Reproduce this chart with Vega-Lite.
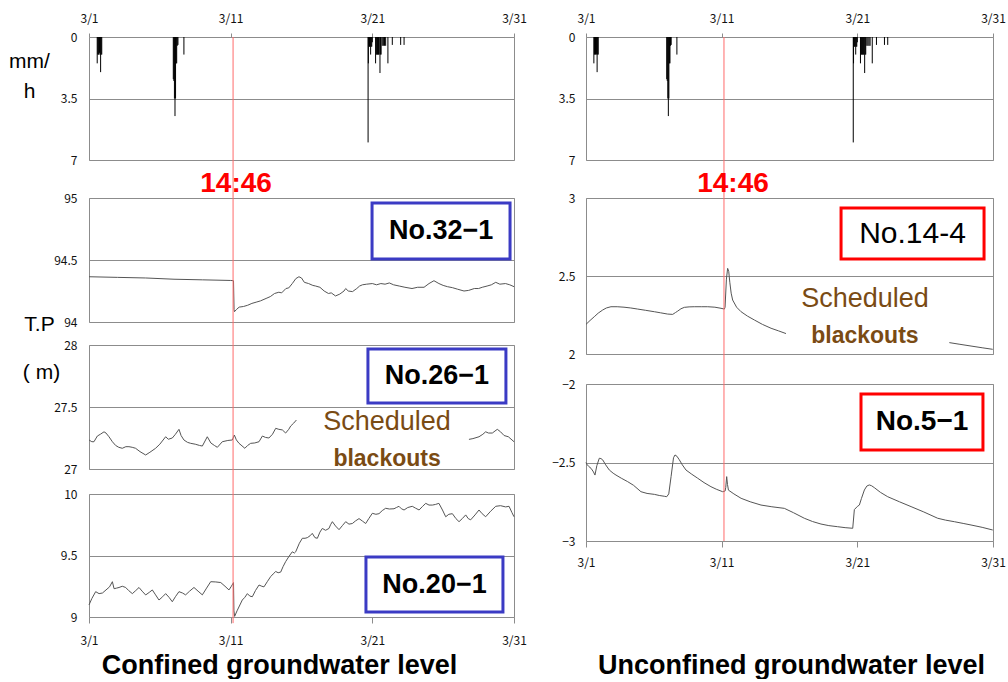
{
"$schema": "https://vega.github.io/schema/vega-lite/v6.json",
"padding": {"left": 8, "top": 11, "right": 0, "bottom": 0},
"background": "white",
"spacing": 24,
"datasets": {
"rain": [
{"d":1.58,"mm":1.5},{"d":1.62,"mm":1.0},{"d":1.66,"mm":1.0},{"d":1.70,"mm":1.0},{"d":1.74,"mm":0.9},{"d":1.78,"mm":1.0},{"d":1.82,"mm":2.0},{"d":1.86,"mm":1.0},{"d":1.90,"mm":1.0},
{"d":6.95,"mm":2.4},{"d":6.99,"mm":2.5},{"d":7.03,"mm":3.5},{"d":7.07,"mm":4.5},{"d":7.11,"mm":3.5},{"d":7.15,"mm":1.5},{"d":7.19,"mm":1.5},{"d":7.23,"mm":0.5},{"d":7.28,"mm":0.45},{"d":7.70,"mm":1.0},
{"d":20.70,"mm":6.0},{"d":20.72,"mm":1.5},{"d":20.76,"mm":0.55},{"d":20.80,"mm":0.55},{"d":20.84,"mm":0.55},{"d":20.88,"mm":1.0},{"d":20.92,"mm":0.55},{"d":20.96,"mm":0.55},{"d":21.0,"mm":0.3},
{"d":21.23,"mm":1.5},{"d":21.28,"mm":1.0},{"d":21.32,"mm":1.0},{"d":21.36,"mm":1.0},{"d":21.40,"mm":1.0},{"d":21.44,"mm":1.0},{"d":21.48,"mm":1.0},{"d":21.54,"mm":2.05},{"d":21.58,"mm":1.0},{"d":21.62,"mm":1.0},
{"d":21.70,"mm":0.5},{"d":21.78,"mm":0.5},{"d":21.86,"mm":0.5},{"d":21.94,"mm":0.5},{"d":22.1,"mm":1.5},{"d":22.41,"mm":0.45},{"d":23.0,"mm":0.45},{"d":23.24,"mm":0.45}
],
"g32": [
{"d":1.0,"v":94.365},{"d":3.0,"v":94.36},{"d":5.0,"v":94.355},{"d":7.0,"v":94.345},{"d":9.0,"v":94.34},{"d":11.0,"v":94.335},{"d":11.2,"v":94.333},{"d":11.24,"v":94.10},{"d":11.27,"v":94.083},{"d":11.4,"v":94.10},{"d":11.6,"v":94.12},{"d":11.9,"v":94.125},{"d":12.2,"v":94.135},{"d":12.5,"v":94.15},{"d":12.8,"v":94.16},{"d":13.1,"v":94.17},{"d":13.5,"v":94.19},{"d":13.8,"v":94.205},{"d":14.1,"v":94.23},{"d":14.4,"v":94.24},{"d":14.6,"v":94.235},{"d":14.9,"v":94.27},{"d":15.1,"v":94.275},{"d":15.35,"v":94.31},{"d":15.6,"v":94.35},{"d":15.82,"v":94.365},{"d":16.0,"v":94.355},{"d":16.2,"v":94.32},{"d":16.5,"v":94.31},{"d":16.8,"v":94.295},{"d":17.0,"v":94.29},{"d":17.3,"v":94.28},{"d":17.6,"v":94.25},{"d":17.9,"v":94.23},{"d":18.1,"v":94.235},{"d":18.4,"v":94.21},{"d":18.7,"v":94.225},{"d":19.0,"v":94.25},{"d":19.12,"v":94.27},{"d":19.3,"v":94.25},{"d":19.6,"v":94.245},{"d":19.9,"v":94.27},{"d":20.1,"v":94.29},{"d":20.3,"v":94.3},{"d":20.6,"v":94.305},{"d":21.0,"v":94.31},{"d":21.3,"v":94.3},{"d":21.6,"v":94.31},{"d":21.9,"v":94.305},{"d":22.2,"v":94.315},{"d":22.5,"v":94.3},{"d":22.9,"v":94.29},{"d":23.3,"v":94.28},{"d":23.8,"v":94.27},{"d":24.2,"v":94.28},{"d":24.65,"v":94.28},{"d":25.0,"v":94.31},{"d":25.35,"v":94.333},{"d":25.7,"v":94.31},{"d":26.0,"v":94.295},{"d":26.3,"v":94.285},{"d":26.65,"v":94.277},{"d":27.0,"v":94.265},{"d":27.47,"v":94.25},{"d":27.8,"v":94.255},{"d":28.2,"v":94.27},{"d":28.5,"v":94.27},{"d":28.76,"v":94.28},{"d":29.1,"v":94.29},{"d":29.4,"v":94.30},{"d":29.71,"v":94.32},{"d":30.0,"v":94.305},{"d":30.4,"v":94.31},{"d":30.7,"v":94.3},{"d":31.0,"v":94.285}
],
"g26": [
{"s":1,"d":1.0,"v":27.234},{"s":1,"d":1.2,"v":27.22},{"s":1,"d":1.35,"v":27.22},{"s":1,"d":1.59,"v":27.266},{"s":1,"d":1.8,"v":27.28},{"s":1,"d":2.06,"v":27.30},{"s":1,"d":2.2,"v":27.29},{"s":1,"d":2.41,"v":27.26},{"s":1,"d":2.65,"v":27.22},{"s":1,"d":2.88,"v":27.19},{"s":1,"d":3.1,"v":27.175},{"s":1,"d":3.35,"v":27.167},{"s":1,"d":3.6,"v":27.18},{"s":1,"d":3.82,"v":27.18},{"s":1,"d":4.05,"v":27.175},{"s":1,"d":4.29,"v":27.167},{"s":1,"d":4.6,"v":27.14},{"s":1,"d":5.0,"v":27.113},{"s":1,"d":5.3,"v":27.135},{"s":1,"d":5.7,"v":27.167},{"s":1,"d":6.0,"v":27.2},{"s":1,"d":6.41,"v":27.26},{"s":1,"d":6.6,"v":27.24},{"s":1,"d":6.88,"v":27.25},{"s":1,"d":7.1,"v":27.28},{"s":1,"d":7.35,"v":27.32},{"s":1,"d":7.5,"v":27.27},{"s":1,"d":7.7,"v":27.234},{"s":1,"d":7.95,"v":27.215},{"s":1,"d":8.18,"v":27.207},{"s":1,"d":8.5,"v":27.2},{"s":1,"d":8.8,"v":27.19},{"s":1,"d":9.0,"v":27.185},{"s":1,"d":9.35,"v":27.26},{"s":1,"d":9.6,"v":27.21},{"s":1,"d":9.85,"v":27.19},{"s":1,"d":10.06,"v":27.175},{"s":1,"d":10.41,"v":27.22},{"s":1,"d":10.8,"v":27.23},{"s":1,"d":11.12,"v":27.234},{"s":1,"d":11.26,"v":27.274},{"s":1,"d":11.4,"v":27.235},{"s":1,"d":11.59,"v":27.207},{"s":1,"d":12.0,"v":27.167},{"s":1,"d":12.2,"v":27.19},{"s":1,"d":12.41,"v":27.207},{"s":1,"d":12.7,"v":27.21},{"s":1,"d":13.0,"v":27.22},{"s":1,"d":13.24,"v":27.266},{"s":1,"d":13.45,"v":27.255},{"s":1,"d":13.7,"v":27.25},{"s":1,"d":13.95,"v":27.28},{"s":1,"d":14.18,"v":27.328},{"s":1,"d":14.4,"v":27.32},{"s":1,"d":14.65,"v":27.315},{"s":1,"d":14.88,"v":27.29},{"s":1,"d":15.1,"v":27.32},{"s":1,"d":15.24,"v":27.347},{"s":1,"d":15.45,"v":27.37},{"s":1,"d":15.64,"v":27.395},
{"s":2,"d":27.82,"v":27.239},{"s":2,"d":28.1,"v":27.245},{"s":2,"d":28.53,"v":27.26},{"s":2,"d":28.8,"v":27.28},{"s":2,"d":29.0,"v":27.30},{"s":2,"d":29.2,"v":27.29},{"s":2,"d":29.47,"v":27.29},{"s":2,"d":29.82,"v":27.32},{"s":2,"d":30.05,"v":27.3},{"s":2,"d":30.3,"v":27.27},{"s":2,"d":30.6,"v":27.26},{"s":2,"d":31.0,"v":27.22}
],
"g20": [
{"d":1.0,"v":9.098},{"d":1.2,"v":9.15},{"d":1.47,"v":9.206},{"d":1.71,"v":9.19},{"d":1.95,"v":9.195},{"d":2.2,"v":9.22},{"d":2.45,"v":9.245},{"d":2.65,"v":9.287},{"d":2.77,"v":9.23},{"d":2.95,"v":9.235},{"d":3.12,"v":9.24},{"d":3.35,"v":9.25},{"d":3.59,"v":9.24},{"d":3.8,"v":9.215},{"d":4.06,"v":9.19},{"d":4.3,"v":9.215},{"d":4.53,"v":9.24},{"d":4.75,"v":9.21},{"d":5.0,"v":9.179},{"d":5.25,"v":9.20},{"d":5.47,"v":9.22},{"d":5.7,"v":9.18},{"d":5.94,"v":9.138},{"d":6.2,"v":9.165},{"d":6.41,"v":9.19},{"d":6.65,"v":9.16},{"d":6.88,"v":9.124},{"d":7.1,"v":9.165},{"d":7.35,"v":9.206},{"d":7.6,"v":9.195},{"d":7.82,"v":9.18},{"d":8.1,"v":9.21},{"d":8.41,"v":9.24},{"d":8.7,"v":9.21},{"d":9.0,"v":9.18},{"d":9.3,"v":9.235},{"d":9.59,"v":9.287},{"d":9.95,"v":9.285},{"d":10.3,"v":9.28},{"d":10.6,"v":9.25},{"d":10.88,"v":9.22},{"d":11.05,"v":9.25},{"d":11.2,"v":9.28},{"d":11.23,"v":9.05},{"d":11.28,"v":9.005},{"d":11.45,"v":9.05},{"d":11.82,"v":9.138},{"d":12.0,"v":9.16},{"d":12.18,"v":9.19},{"d":12.35,"v":9.17},{"d":12.53,"v":9.165},{"d":12.75,"v":9.215},{"d":13.0,"v":9.26},{"d":13.2,"v":9.25},{"d":13.35,"v":9.245},{"d":13.6,"v":9.29},{"d":13.82,"v":9.328},{"d":14.0,"v":9.35},{"d":14.18,"v":9.37},{"d":14.35,"v":9.36},{"d":14.53,"v":9.365},{"d":14.7,"v":9.41},{"d":14.88,"v":9.45},{"d":15.1,"v":9.49},{"d":15.35,"v":9.53},{"d":15.5,"v":9.52},{"d":15.59,"v":9.53},{"d":15.85,"v":9.6},{"d":16.06,"v":9.64},{"d":16.25,"v":9.64},{"d":16.41,"v":9.645},{"d":16.6,"v":9.66},{"d":16.76,"v":9.68},{"d":16.95,"v":9.645},{"d":17.12,"v":9.64},{"d":17.3,"v":9.69},{"d":17.47,"v":9.72},{"d":17.7,"v":9.705},{"d":17.94,"v":9.72},{"d":18.05,"v":9.75},{"d":18.18,"v":9.775},{"d":18.4,"v":9.74},{"d":18.65,"v":9.71},{"d":18.9,"v":9.745},{"d":19.12,"v":9.775},{"d":19.35,"v":9.755},{"d":19.59,"v":9.76},{"d":19.8,"v":9.78},{"d":20.06,"v":9.80},{"d":20.3,"v":9.78},{"d":20.53,"v":9.76},{"d":20.75,"v":9.80},{"d":21.0,"v":9.843},{"d":21.25,"v":9.835},{"d":21.47,"v":9.84},{"d":21.7,"v":9.865},{"d":21.94,"v":9.884},{"d":22.2,"v":9.878},{"d":22.53,"v":9.88},{"d":22.7,"v":9.89},{"d":22.88,"v":9.90},{"d":23.05,"v":9.88},{"d":23.24,"v":9.87},{"d":23.5,"v":9.89},{"d":23.82,"v":9.90},{"d":24.05,"v":9.885},{"d":24.3,"v":9.87},{"d":24.55,"v":9.90},{"d":24.77,"v":9.924},{"d":25.0,"v":9.91},{"d":25.24,"v":9.91},{"d":25.45,"v":9.915},{"d":25.7,"v":9.924},{"d":25.95,"v":9.87},{"d":26.18,"v":9.815},{"d":26.4,"v":9.835},{"d":26.65,"v":9.84},{"d":26.9,"v":9.80},{"d":27.12,"v":9.775},{"d":27.35,"v":9.80},{"d":27.59,"v":9.83},{"d":27.77,"v":9.80},{"d":27.94,"v":9.79},{"d":28.25,"v":9.83},{"d":28.53,"v":9.87},{"d":28.75,"v":9.84},{"d":29.0,"v":9.815},{"d":29.35,"v":9.86},{"d":29.71,"v":9.90},{"d":30.05,"v":9.905},{"d":30.41,"v":9.895},{"d":30.65,"v":9.90},{"d":30.85,"v":9.85},{"d":31.0,"v":9.815}
],
"g14": [
{"s":1,"d":1.0,"v":2.19},{"s":1,"d":1.3,"v":2.215},{"s":1,"d":1.61,"v":2.239},{"s":1,"d":1.9,"v":2.262},{"s":1,"d":2.23,"v":2.282},{"s":1,"d":2.5,"v":2.295},{"s":1,"d":2.84,"v":2.303},{"s":1,"d":3.3,"v":2.303},{"s":1,"d":3.8,"v":2.30},{"s":1,"d":4.3,"v":2.295},{"s":1,"d":4.81,"v":2.288},{"s":1,"d":5.4,"v":2.28},{"s":1,"d":6.04,"v":2.271},{"s":1,"d":6.5,"v":2.264},{"s":1,"d":7.02,"v":2.256},{"s":1,"d":7.39,"v":2.254},{"s":1,"d":7.6,"v":2.266},{"s":1,"d":7.76,"v":2.275},{"s":1,"d":8.0,"v":2.29},{"s":1,"d":8.25,"v":2.299},{"s":1,"d":8.6,"v":2.302},{"s":1,"d":8.98,"v":2.303},{"s":1,"d":9.5,"v":2.303},{"s":1,"d":9.97,"v":2.303},{"s":1,"d":10.5,"v":2.30},{"s":1,"d":10.95,"v":2.293},{"s":1,"d":11.2,"v":2.288},{"s":1,"d":11.25,"v":2.30},{"s":1,"d":11.35,"v":2.48},{"s":1,"d":11.44,"v":2.549},{"s":1,"d":11.52,"v":2.53},{"s":1,"d":11.6,"v":2.46},{"s":1,"d":11.7,"v":2.39},{"s":1,"d":11.81,"v":2.346},{"s":1,"d":12.1,"v":2.30},{"s":1,"d":12.43,"v":2.271},{"s":1,"d":12.9,"v":2.243},{"s":1,"d":13.41,"v":2.218},{"s":1,"d":14.0,"v":2.19},{"s":1,"d":14.64,"v":2.165},{"s":1,"d":15.2,"v":2.148},{"s":1,"d":15.74,"v":2.131},
{"s":2,"d":27.78,"v":2.073},{"s":2,"d":28.5,"v":2.063},{"s":2,"d":29.38,"v":2.051},{"s":2,"d":30.2,"v":2.04},{"s":2,"d":30.98,"v":2.03}
],
"g5": [
{"d":1.0,"v":-2.50},{"d":1.05,"v":-2.51},{"d":1.2,"v":-2.525},{"d":1.37,"v":-2.537},{"d":1.55,"v":-2.56},{"d":1.66,"v":-2.58},{"d":1.8,"v":-2.52},{"d":1.98,"v":-2.473},{"d":2.1,"v":-2.475},{"d":2.23,"v":-2.483},{"d":2.45,"v":-2.515},{"d":2.72,"v":-2.548},{"d":3.0,"v":-2.568},{"d":3.21,"v":-2.58},{"d":3.6,"v":-2.60},{"d":4.07,"v":-2.622},{"d":4.5,"v":-2.645},{"d":5.05,"v":-2.686},{"d":5.5,"v":-2.697},{"d":6.04,"v":-2.703},{"d":6.4,"v":-2.71},{"d":6.77,"v":-2.715},{"d":6.95,"v":-2.718},{"d":7.1,"v":-2.70},{"d":7.27,"v":-2.59},{"d":7.45,"v":-2.47},{"d":7.56,"v":-2.452},{"d":7.7,"v":-2.46},{"d":7.88,"v":-2.483},{"d":8.1,"v":-2.515},{"d":8.37,"v":-2.548},{"d":8.8,"v":-2.575},{"d":9.23,"v":-2.60},{"d":9.7,"v":-2.628},{"d":10.21,"v":-2.654},{"d":10.6,"v":-2.67},{"d":11.07,"v":-2.686},{"d":11.25,"v":-2.682},{"d":11.3,"v":-2.66},{"d":11.37,"v":-2.59},{"d":11.43,"v":-2.64},{"d":11.5,"v":-2.676},{"d":11.9,"v":-2.70},{"d":12.43,"v":-2.728},{"d":13.1,"v":-2.75},{"d":13.9,"v":-2.771},{"d":14.7,"v":-2.782},{"d":15.62,"v":-2.792},{"d":16.3,"v":-2.82},{"d":17.09,"v":-2.855},{"d":17.7,"v":-2.876},{"d":18.32,"v":-2.892},{"d":18.9,"v":-2.902},{"d":19.55,"v":-2.909},{"d":20.1,"v":-2.915},{"d":20.66,"v":-2.919},{"d":20.72,"v":-2.86},{"d":20.78,"v":-2.80},{"d":21.0,"v":-2.78},{"d":21.15,"v":-2.771},{"d":21.3,"v":-2.73},{"d":21.52,"v":-2.675},{"d":21.7,"v":-2.65},{"d":21.88,"v":-2.643},{"d":22.05,"v":-2.648},{"d":22.25,"v":-2.66},{"d":22.7,"v":-2.69},{"d":23.24,"v":-2.718},{"d":24.1,"v":-2.75},{"d":24.96,"v":-2.781},{"d":25.9,"v":-2.815},{"d":26.92,"v":-2.855},{"d":27.5,"v":-2.867},{"d":28.15,"v":-2.877},{"d":28.8,"v":-2.888},{"d":29.38,"v":-2.898},{"d":30.2,"v":-2.913},{"d":30.98,"v":-2.93}
]
},
"hconcat": [
{
"vconcat": [
{
"width": 425, "height": 123,
"layer": [
{"data": {"name": "rain"}, "mark": {"type": "rule", "color": "#000", "strokeWidth": 1},
 "encoding": {
  "x": {"field": "d", "type": "quantitative", "scale": {"domain": [1, 31], "nice": false, "zero": false},
        "axis": {"orient": "top", "values": [1, 11, 21, 31], "labelExpr": "'3/' + datum.value", "grid": false, "ticks": true, "tickSize": 4, "tickColor": "#8c8c8c", "labelPadding": 8, "title": null}},
  "y": {"field": "mm", "type": "quantitative", "scale": {"domain": [0, 7], "reverse": true, "nice": false, "zero": false},
        "axis": {"values": [0, 3.5, 7], "labelExpr": "'' + datum.value", "labelPadding": 12, "title": ["mm/", "h"], "titleAngle": 0, "titleAlign": "center", "titleBaseline": "alphabetic", "titleX": -60, "titleY": 30, "titleFontSize": 21, "titleLineHeight": 30}},
  "y2": {"datum": 0}
 }},
{"data": {"values": [{"e": "quake"}]}, "mark": {"type": "rule", "color": "#ff6b6b", "strokeWidth": 1},
 "encoding": {"x": {"datum": 11.17}, "y": {"datum": 0}, "y2": {"datum": 9.16}}}
]
},
{"width": 425, "height": 38, "data": {"values": [{}]}, "mark": {"type": "point", "opacity": 0}, "encoding": {}, "view": {"stroke": null}},
{
"width": 425, "height": 124,
"layer": [
{"data": {"name": "g32"}, "mark": {"type": "line", "color": "#555", "strokeWidth": 1},
 "encoding": {
  "x": {"field": "d", "type": "quantitative", "scale": {"domain": [1, 31], "nice": false, "zero": false}, "axis": null},
  "y": {"field": "v", "type": "quantitative", "scale": {"domain": [94, 95], "nice": false, "zero": false},
        "axis": {"values": [94, 94.5, 95], "format": "~g", "labelPadding": 12, "title": "T.P", "titleAngle": 0, "titleAlign": "center", "titleBaseline": "alphabetic", "titleX": -50, "titleY": 132, "titleFontSize": 21}}
 }},
{"data": {"values": [{"e": "quake"}]}, "mark": {"type": "rule", "color": "#ff6b6b", "strokeWidth": 1},
 "encoding": {"x": {"datum": 11.17}, "y": {"datum": 95}, "y2": {"datum": 93.815}}},
{"data": {"values": [{"label": "No.32−1"}]}, "mark": {"type": "rect", "fill": "white", "stroke": "#3b3bc4", "strokeWidth": 3},
 "encoding": {"x": {"datum": 20.98}, "x2": {"datum": 30.72}, "y": {"datum": 94.96}, "y2": {"datum": 94.508}}},
{"data": {"values": [{"label": "No.32−1"}]}, "mark": {"type": "text", "font": "Liberation Sans", "fontWeight": "bold", "fontSize": 27, "baseline": "middle", "align": "center", "color": "#000"},
 "encoding": {"x": {"datum": 25.85}, "y": {"datum": 94.73}, "text": {"field": "label"}}},
{"data": {"values": [{"label": "14:46"}]}, "mark": {"type": "text", "font": "Liberation Sans", "fontWeight": "bold", "fontSize": 28, "baseline": "alphabetic", "align": "center", "color": "#ff0000", "dy": -6, "dx": 3},
 "encoding": {"x": {"datum": 11.17}, "y": {"datum": 95}, "text": {"field": "label"}}}
]
},
{"width": 425, "height": 23, "data": {"values": [{}]}, "mark": {"type": "point", "opacity": 0}, "encoding": {}, "view": {"stroke": null}},
{
"width": 425, "height": 124,
"layer": [
{"data": {"name": "g26"}, "mark": {"type": "line", "color": "#555", "strokeWidth": 1},
 "encoding": {
  "x": {"field": "d", "type": "quantitative", "scale": {"domain": [1, 31], "nice": false, "zero": false}, "axis": null},
  "y": {"field": "v", "type": "quantitative", "scale": {"domain": [27, 28], "nice": false, "zero": false},
        "axis": {"values": [27, 27.5, 28], "format": "~g", "labelPadding": 12, "title": "( m)", "titleAngle": 0, "titleAlign": "center", "titleBaseline": "alphabetic", "titleX": -48, "titleY": 33, "titleFontSize": 21}},
  "detail": {"field": "s", "type": "nominal"}
 }},
{"data": {"values": [{"e": "quake"}]}, "mark": {"type": "rule", "color": "#ff6b6b", "strokeWidth": 1},
 "encoding": {"x": {"datum": 11.17}, "y": {"datum": 28}, "y2": {"datum": 26.798}}},
{"data": {"values": [{"label": "No.26−1"}]}, "mark": {"type": "rect", "fill": "white", "stroke": "#3b3bc4", "strokeWidth": 3},
 "encoding": {"x": {"datum": 20.69}, "x2": {"datum": 30.43}, "y": {"datum": 27.968}, "y2": {"datum": 27.532}}},
{"data": {"values": [{"label": "No.26−1"}]}, "mark": {"type": "text", "font": "Liberation Sans", "fontWeight": "bold", "fontSize": 27, "baseline": "middle", "align": "center", "color": "#000"},
 "encoding": {"x": {"datum": 25.56}, "y": {"datum": 27.75}, "text": {"field": "label"}}},
{"data": {"values": [{"label": "Scheduled"}]}, "mark": {"type": "text", "font": "Liberation Sans", "fontSize": 27, "baseline": "middle", "align": "center", "color": "#7a4b14"},
 "encoding": {"x": {"datum": 22.04}, "y": {"datum": 27.379}, "text": {"field": "label"}}},
{"data": {"values": [{"label": "blackouts"}]}, "mark": {"type": "text", "font": "Liberation Sans", "fontWeight": "bold", "fontSize": 23, "baseline": "middle", "align": "center", "color": "#7a4b14"},
 "encoding": {"x": {"datum": 22.04}, "y": {"datum": 27.081}, "text": {"field": "label"}}}
]
},
{"width": 425, "height": 25, "data": {"values": [{}]}, "mark": {"type": "point", "opacity": 0}, "encoding": {}, "view": {"stroke": null}},
{
"width": 425, "height": 123,
"layer": [
{"data": {"name": "g20"}, "mark": {"type": "line", "color": "#555", "strokeWidth": 1},
 "encoding": {
  "x": {"field": "d", "type": "quantitative", "scale": {"domain": [1, 31], "nice": false, "zero": false},
        "axis": {"orient": "bottom", "values": [1, 11, 21, 31], "labelExpr": "'3/' + datum.value", "grid": false, "ticks": true, "tickSize": 6, "tickColor": "#8c8c8c", "labelPadding": 12,
                 "title": "Confined groundwater level", "titleFont": "Liberation Sans", "titleFontSize": 27, "titleFontWeight": "bold", "titleAlign": "center", "titleBaseline": "alphabetic", "titleX": 190, "titleY": 56}},
  "y": {"field": "v", "type": "quantitative", "scale": {"domain": [9, 10], "nice": false, "zero": false},
        "axis": {"values": [9, 9.5, 10], "format": "~g", "labelPadding": 12, "title": null}}
 }},
{"data": {"values": [{"e": "quake"}]}, "mark": {"type": "rule", "color": "#ff6b6b", "strokeWidth": 1},
 "encoding": {"x": {"datum": 11.17}, "y": {"datum": 10}, "y2": {"datum": 8.95}}},
{"data": {"values": [{"label": "No.20−1"}]}, "mark": {"type": "rect", "fill": "white", "stroke": "#3b3bc4", "strokeWidth": 3},
 "encoding": {"x": {"datum": 20.55}, "x2": {"datum": 30.22}, "y": {"datum": 9.488}, "y2": {"datum": 9.041}}},
{"data": {"values": [{"label": "No.20−1"}]}, "mark": {"type": "text", "font": "Liberation Sans", "fontWeight": "bold", "fontSize": 27, "baseline": "middle", "align": "center", "color": "#000"},
 "encoding": {"x": {"datum": 25.39}, "y": {"datum": 9.264}, "text": {"field": "label"}}}
]
}
],
"spacing": 0,
"bounds": "flush"
},
{
"vconcat": [
{
"width": 407, "height": 123,
"layer": [
{"data": {"name": "rain"}, "mark": {"type": "rule", "color": "#000", "strokeWidth": 1},
 "encoding": {
  "x": {"field": "d", "type": "quantitative", "scale": {"domain": [1, 31], "nice": false, "zero": false},
        "axis": {"orient": "top", "values": [1, 11, 21, 31], "labelExpr": "'3/' + datum.value", "grid": false, "ticks": true, "tickSize": 4, "tickColor": "#8c8c8c", "labelPadding": 8, "title": null}},
  "y": {"field": "mm", "type": "quantitative", "scale": {"domain": [0, 7], "reverse": true, "nice": false, "zero": false},
        "axis": {"values": [0, 3.5, 7], "labelExpr": "'' + datum.value", "labelPadding": 11, "title": null}},
  "y2": {"datum": 0}
 }},
{"data": {"values": [{"e": "quake"}]}, "mark": {"type": "rule", "color": "#ff6b6b", "strokeWidth": 1},
 "encoding": {"x": {"datum": 11.17}, "y": {"datum": 0}, "y2": {"datum": 9.16}}}
]
},
{"width": 407, "height": 38, "data": {"values": [{}]}, "mark": {"type": "point", "opacity": 0}, "encoding": {}, "view": {"stroke": null}},
{
"width": 407, "height": 156,
"layer": [
{"data": {"name": "g14"}, "mark": {"type": "line", "color": "#555", "strokeWidth": 1},
 "encoding": {
  "x": {"field": "d", "type": "quantitative", "scale": {"domain": [1, 31], "nice": false, "zero": false}, "axis": null},
  "y": {"field": "v", "type": "quantitative", "scale": {"domain": [2, 3], "nice": false, "zero": false},
        "axis": {"values": [2, 2.5, 3], "format": "~g", "labelPadding": 11, "title": null}},
  "detail": {"field": "s", "type": "nominal"}
 }},
{"data": {"values": [{"e": "quake"}]}, "mark": {"type": "rule", "color": "#ff6b6b", "strokeWidth": 1},
 "encoding": {"x": {"datum": 11.17}, "y": {"datum": 3}, "y2": {"datum": 1.808}}},
{"data": {"values": [{"label": "No.14-4"}]}, "mark": {"type": "rect", "fill": "white", "stroke": "#ff0000", "strokeWidth": 3},
 "encoding": {"x": {"datum": 19.8}, "x2": {"datum": 30.34}, "y": {"datum": 2.936}, "y2": {"datum": 2.609}}},
{"data": {"values": [{"label": "No.14-4"}]}, "mark": {"type": "text", "font": "Liberation Sans", "fontSize": 30, "baseline": "middle", "align": "center", "color": "#000"},
 "encoding": {"x": {"datum": 25.07}, "y": {"datum": 2.772}, "text": {"field": "label"}}},
{"data": {"values": [{"label": "Scheduled"}]}, "mark": {"type": "text", "font": "Liberation Sans", "fontSize": 27, "baseline": "middle", "align": "center", "color": "#7a4b14"},
 "encoding": {"x": {"datum": 21.56}, "y": {"datum": 2.353}, "text": {"field": "label"}}},
{"data": {"values": [{"label": "blackouts"}]}, "mark": {"type": "text", "font": "Liberation Sans", "fontWeight": "bold", "fontSize": 23, "baseline": "middle", "align": "center", "color": "#7a4b14"},
 "encoding": {"x": {"datum": 21.56}, "y": {"datum": 2.115}, "text": {"field": "label"}}},
{"data": {"values": [{"label": "14:46"}]}, "mark": {"type": "text", "font": "Liberation Sans", "fontWeight": "bold", "fontSize": 28, "baseline": "alphabetic", "align": "center", "color": "#ff0000", "dy": -6, "dx": 9},
 "encoding": {"x": {"datum": 11.17}, "y": {"datum": 3}, "text": {"field": "label"}}}
]
},
{"width": 407, "height": 30, "data": {"values": [{}]}, "mark": {"type": "point", "opacity": 0}, "encoding": {}, "view": {"stroke": null}},
{
"width": 407, "height": 157,
"layer": [
{"data": {"name": "g5"}, "mark": {"type": "line", "color": "#555", "strokeWidth": 1},
 "encoding": {
  "x": {"field": "d", "type": "quantitative", "scale": {"domain": [1, 31], "nice": false, "zero": false},
        "axis": {"orient": "bottom", "values": [1, 11, 21, 31], "labelExpr": "'3/' + datum.value", "grid": false, "ticks": true, "tickSize": 6, "tickColor": "#8c8c8c", "labelPadding": 10,
                 "title": "Unconfined groundwater level", "titleFont": "Liberation Sans", "titleFontSize": 27, "titleFontWeight": "bold", "titleAlign": "center", "titleBaseline": "alphabetic", "titleX": 205, "titleY": 132}},
  "y": {"field": "v", "type": "quantitative", "scale": {"domain": [-3, -2], "nice": false, "zero": false},
        "axis": {"values": [-3, -2.5, -2], "format": "~g", "labelPadding": 11, "title": null}}
 }},
{"data": {"values": [{"e": "quake"}]}, "mark": {"type": "rule", "color": "#ff6b6b", "strokeWidth": 1},
 "encoding": {"x": {"datum": 11.17}, "y": {"datum": -2}, "y2": {"datum": -3}}},
{"data": {"values": [{"label": "No.5−1"}]}, "mark": {"type": "rect", "fill": "white", "stroke": "#ff0000", "strokeWidth": 3},
 "encoding": {"x": {"datum": 21.27}, "x2": {"datum": 30.26}, "y": {"datum": -2.064}, "y2": {"datum": -2.42}}},
{"data": {"values": [{"label": "No.5−1"}]}, "mark": {"type": "text", "font": "Liberation Sans", "fontWeight": "bold", "fontSize": 28, "baseline": "middle", "align": "center", "color": "#000"},
 "encoding": {"x": {"datum": 25.77}, "y": {"datum": -2.242}, "text": {"field": "label"}}}
]
}
],
"spacing": 0,
"bounds": "flush"
}
],
"config": {
 "view": {"stroke": "#8c8c8c", "strokeWidth": 1},
 "axis": {"labelFont": "Noto Sans CJK JP", "labelFontSize": 12, "labelColor": "#111", "domain": false, "ticks": false, "grid": true, "gridColor": "#8c8c8c", "gridOpacity": 1, "gridWidth": 1, "labelFlush": false, "labelOverlap": false, "labelBound": false, "titleFont": "Liberation Sans", "titleFontWeight": "normal", "titleColor": "#000"}
}
}
